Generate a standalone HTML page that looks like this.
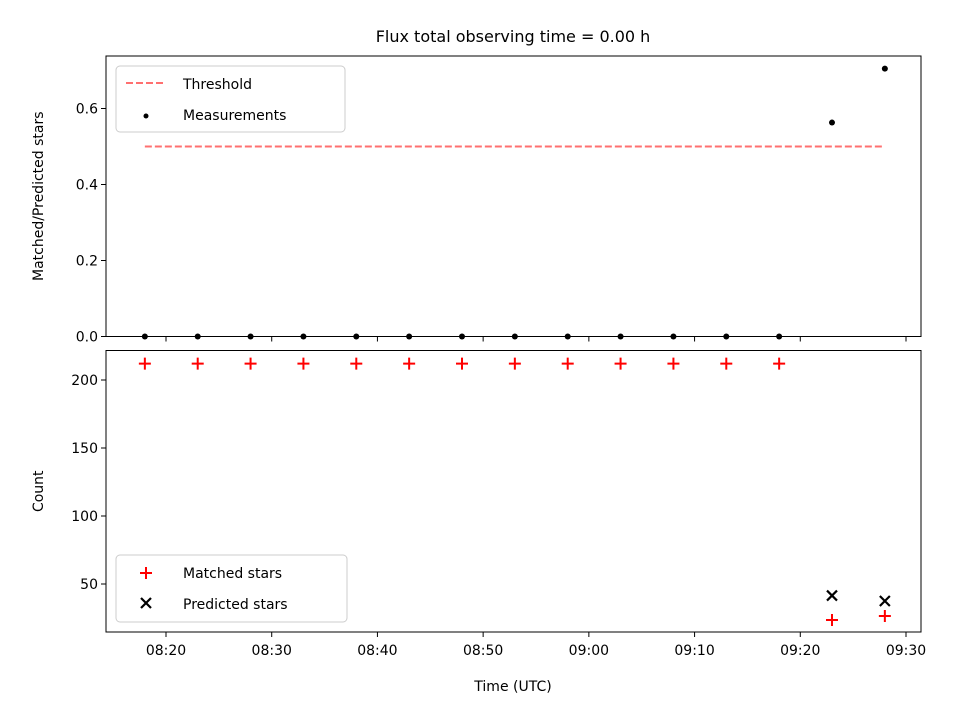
<!DOCTYPE html>
<html><head><meta charset="utf-8"><style>
body{margin:0;background:#fff}
svg{display:block;font-family:"DejaVu Sans","Liberation Sans",sans-serif}
</style></head><body>
<svg id="c" width="960" height="720" viewBox="0 0 960 720">
<rect width="960" height="720" fill="#fff"/>
<text x="513" y="42" font-size="16" text-anchor="middle">Flux total observing time = 0.00 h</text>
<g id="gtop"></g><g id="gbot"></g>
</svg>
<script>
const times=["08:18","08:23","08:28","08:33","08:38","08:43","08:48","08:53","08:58","09:03","09:08","09:13","09:18","09:23","09:28"];
const ratio=[0,0,0,0,0,0,0,0,0,0,0,0,0,0.563,0.705];
const threshold=0.5;
const matched=[212,212,212,212,212,212,212,212,212,212,212,212,212,23.5,26.5];
const predTimes=["09:23","09:28"];
const predicted=[41.5,37.5];
const xTicks=["08:20","08:30","08:40","08:50","09:00","09:10","09:20","09:30"];
const topTicks=[0,0.2,0.4,0.6];
const botTicks=[50,100,150,200];

const NS="http://www.w3.org/2000/svg";
const L=106,R=921;
function mins(t){const[a,b]=t.split(":").map(Number);return a*60+b;}
function X(t){return 166+(mins(t)-500)*740/70;}
function Yt(v){return 336.5-v*380;}
function Yb(v){return 380-(v-200)*1.36;}
function mk(p,tag,at,name){const e=document.createElementNS(NS,tag);for(const k in at)e.setAttribute(k,at[k]);


p.appendChild(e);return e;}
const gTop=document.getElementById('gtop'),gBot=document.getElementById('gbot');
function axes(g,y0,y1,ticks,Y,fmt,labels,yname,ylab){
  mk(g,'rect',{x:L,y:y0,width:R-L,height:y1-y0,fill:'none',stroke:'#000','stroke-width':1},yname+'-frame');
  ticks.forEach(v=>{const y=Y(v);mk(g,'line',{x1:L-5,x2:L,y1:y,y2:y,stroke:'#000'},'y-tick');
    const t=mk(g,'text',{x:L-8,y:y+5,'font-size':14,'text-anchor':'end'},'y-tick-label');t.textContent=fmt(v);});
  xTicks.forEach(s=>{const x=X(s);mk(g,'line',{x1:x,x2:x,y1:y1,y2:y1+5,stroke:'#000'},'x-tick');
    if(labels){const t=mk(g,'text',{x:x,y:y1+23,'font-size':14,'text-anchor':'middle'},'x-tick-label');t.textContent=s;}});
  const cy=(y0+y1)/2;const t=mk(g,'text',{x:43,y:cy,'font-size':14,'text-anchor':'middle',transform:`rotate(-90 43 ${cy})`},yname);t.textContent=ylab;
}
axes(gTop,56,336.5,topTicks,Yt,v=>v.toFixed(1),false,'y-axis-title-top','Matched/Predicted stars');
axes(gBot,350.5,632,botTicks,Yb,v=>String(v),true,'y-axis-title-bottom','Count');
mk(gTop,'line',{x1:X(times[0]),x2:X(times[times.length-1]),y1:Yt(threshold),y2:Yt(threshold),stroke:'#ff7070','stroke-width':2,'stroke-dasharray':'7,3'},'threshold-line');
times.forEach((t,i)=>mk(gTop,'circle',{cx:X(t),cy:Yt(ratio[i]),r:3,fill:'#000'},'measurement-point'));
times.forEach((t,i)=>{const x=X(t),y=Yb(matched[i]);mk(gBot,'path',{d:`M${x-6} ${y}H${x+6}M${x} ${y-6}V${y+6}`,stroke:'#f00','stroke-width':2},'matched-marker');});
predTimes.forEach((t,i)=>{const x=X(t),y=Yb(predicted[i]);mk(gBot,'path',{d:`M${x-5} ${y-5}L${x+5} ${y+5}M${x-5} ${y+5}L${x+5} ${y-5}`,stroke:'#000','stroke-width':2.2},'predicted-marker');});
const xt=mk(gBot,'text',{x:513,y:691,'font-size':14,'text-anchor':'middle'},'x-axis-title');xt.textContent='Time (UTC)';
const lg1=mk(gTop,'g',{},'legend-top');
mk(lg1,'rect',{x:116,y:66,width:229,height:66,rx:4,fill:'#fff',stroke:'#ccc'},'legend-box');
mk(lg1,'line',{x1:126,x2:166,y1:83,y2:83,stroke:'#ff7070','stroke-width':2,'stroke-dasharray':'7,3'},'legend-threshold-swatch');
let t=mk(lg1,'text',{x:183,y:89,'font-size':14},'legend-threshold-label');t.textContent='Threshold';
mk(lg1,'circle',{cx:146,cy:116,r:2.5,fill:'#000'},'legend-measurement-swatch');
t=mk(lg1,'text',{x:183,y:120,'font-size':14},'legend-measurement-label');t.textContent='Measurements';
const lg2=mk(gBot,'g',{},'legend-bottom');
mk(lg2,'rect',{x:116,y:555,width:231,height:67,rx:4,fill:'#fff',stroke:'#ccc'},'legend-box');
mk(lg2,'path',{d:'M140 573H152M146 567V579',stroke:'#f00','stroke-width':2},'legend-matched-swatch');
t=mk(lg2,'text',{x:183,y:578,'font-size':14},'legend-matched-label');t.textContent='Matched stars';
mk(lg2,'path',{d:'M141 598L151 608M141 608L151 598',stroke:'#000','stroke-width':2.2},'legend-predicted-swatch');
t=mk(lg2,'text',{x:183,y:609,'font-size':14},'legend-predicted-label');t.textContent='Predicted stars';
</script>
</body></html>
